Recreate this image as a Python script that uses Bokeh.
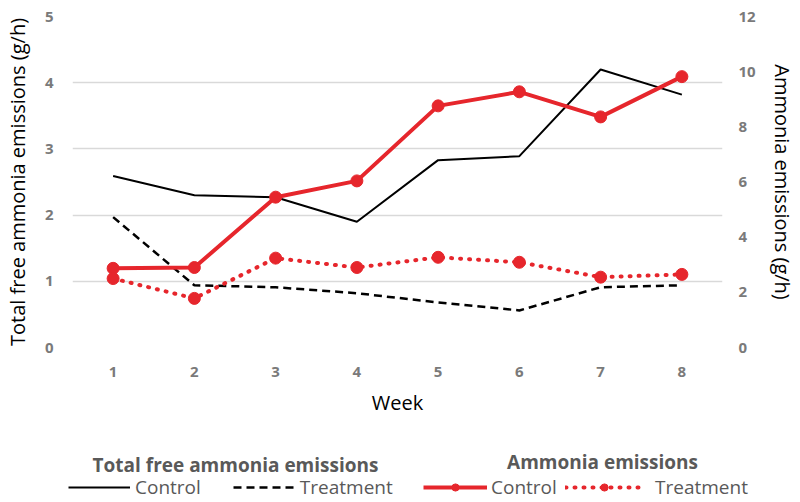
from bokeh.plotting import figure
from bokeh.layouts import column, row
from bokeh.models import Range1d, LinearAxis, FixedTicker, Legend, LegendItem, Label
from bokeh.embed import file_html
from bokeh.resources import INLINE

weeks = [1, 2, 3, 4, 5, 6, 7, 8]
tfa_control = [2.59, 2.30, 2.27, 1.90, 2.83, 2.89, 4.20, 3.82]
tfa_treatment = [1.97, 0.94, 0.91, 0.82, 0.68, 0.56, 0.91, 0.94]
amm_control = [2.87, 2.90, 5.45, 6.04, 8.76, 9.27, 8.36, 9.82]
amm_treatment = [2.50, 1.78, 3.24, 2.90, 3.27, 3.09, 2.55, 2.65]
left_ticks = [0, 1, 2, 3, 4, 5]
right_ticks = [0, 2, 4, 6, 8, 10, 12]

RED = "#e6262c"
GRAY_T = "#7a7a7a"
GRAY_L = "#595959"
FONT = "Open Sans"
NAN = float("nan")

p = figure(width=798, height=420, output_backend="svg", toolbar_location=None,
           x_range=Range1d(0.5, 8.5), y_range=Range1d(0, 5),
           min_border_left=72, min_border_right=75, min_border_top=16, min_border_bottom=73)
p.outline_line_color = None
p.extra_y_ranges = {"right": Range1d(0, 12)}

p.xgrid.grid_line_color = None
p.ygrid.grid_line_color = "#d9d9d9"
p.ygrid.grid_line_width = 1.5
p.ygrid.ticker = FixedTicker(ticks=left_ticks)


def style_axis(ax):
    ax.axis_line_color = None
    ax.major_tick_line_color = None
    ax.minor_tick_line_color = None
    ax.major_tick_out = 0
    ax.major_tick_in = 0
    ax.major_label_text_color = GRAY_T
    ax.major_label_text_font = FONT
    ax.major_label_text_font_style = "bold"
    ax.major_label_text_font_size = "15px"
    ax.axis_label_text_font = FONT
    ax.axis_label_text_font_style = "normal"
    ax.axis_label_text_font_size = "20px"
    ax.axis_label_text_color = "black"


style_axis(p.xaxis[0])
style_axis(p.yaxis[0])

p.xaxis.ticker = FixedTicker(ticks=weeks)
p.xaxis.axis_label = "Week"
p.xaxis.major_label_standoff = 19
p.xaxis.axis_label_standoff = 9

p.yaxis.ticker = FixedTicker(ticks=left_ticks)
p.yaxis.axis_label = "Total free ammonia emissions (g/h)"
p.yaxis.major_label_standoff = 19
p.yaxis.axis_label_standoff = 11

ra = LinearAxis(y_range_name="right", ticker=FixedTicker(ticks=right_ticks),
                axis_label="Ammonia emissions (g/h)")
style_axis(ra)
ra.major_label_standoff = 16
ra.axis_label_standoff = 10
p.add_layout(ra, "right")

p.line(weeks, tfa_control, line_color="black", line_width=2)
p.line(weeks, tfa_treatment, line_color="black", line_width=2.5, line_dash="8 5")
p.line(weeks, amm_control, line_color=RED, line_width=4, y_range_name="right")
p.scatter(weeks, amm_control, size=12, color=RED, y_range_name="right")
p.line(weeks, amm_treatment, line_color=RED, line_width=4, line_dash="1 8",
       line_cap="round", y_range_name="right")
p.scatter(weeks, amm_treatment, size=12, color=RED, y_range_name="right")

# legend panel
lg = figure(width=798, height=80, output_backend="svg", toolbar_location=None,
            x_range=Range1d(0, 1), y_range=Range1d(0, 1),
            x_axis_location=None, y_axis_location=None,
            min_border_left=0, min_border_right=0, min_border_top=0, min_border_bottom=0)
lg.outline_line_color = None
lg.xgrid.grid_line_color = None
lg.ygrid.grid_line_color = None

k1 = lg.line([NAN], [NAN], line_color="black", line_width=2)
k2 = lg.line([NAN], [NAN], line_color="black", line_width=2.5, line_dash="8 5")
k3 = lg.line([NAN], [NAN], line_color=RED, line_width=4)
k3s = lg.scatter([NAN], [NAN], size=12, color=RED)
k4 = lg.line([NAN], [NAN], line_color=RED, line_width=4, line_dash="1 8", line_cap="round")
k4s = lg.scatter([NAN], [NAN], size=12, color=RED)

common = dict(orientation="horizontal", padding=0, margin=0, glyph_height=18,
              label_height=18, label_text_font=FONT, label_text_font_size="19px",
              label_text_color=GRAY_L, border_line_color=None, background_fill_alpha=0)

lg.add_layout(Legend(items=[LegendItem(label="Control", renderers=[k1]),
                            LegendItem(label="Treatment", renderers=[k2])],
                     location=(68, 0), spacing=32, glyph_width=62, label_standoff=5,
                     **common), "center")
lg.add_layout(Legend(items=[LegendItem(label="Control", renderers=[k3, k3s])],
                     location=(423, 0), glyph_width=64, label_standoff=4, **common), "center")
lg.add_layout(Legend(items=[LegendItem(label="Treatment", renderers=[k4, k4s])],
                     location=(565, 0), glyph_width=78, label_standoff=12, **common), "center")

lg.add_layout(Label(x=235, y=36, x_units="screen", y_units="screen",
                    text="Total free ammonia emissions", text_align="center",
                    text_baseline="alphabetic", text_font=FONT, text_font_style="bold",
                    text_font_size="19px", text_color=GRAY_L))
lg.add_layout(Label(x=602, y=39, x_units="screen", y_units="screen",
                    text="Ammonia emissions", text_align="center",
                    text_baseline="alphabetic", text_font=FONT, text_font_style="bold",
                    text_font_size="19px", text_color=GRAY_L))

layout = column(p, row(lg), spacing=0)
open("out.html", "w").write(file_html(layout, INLINE))
